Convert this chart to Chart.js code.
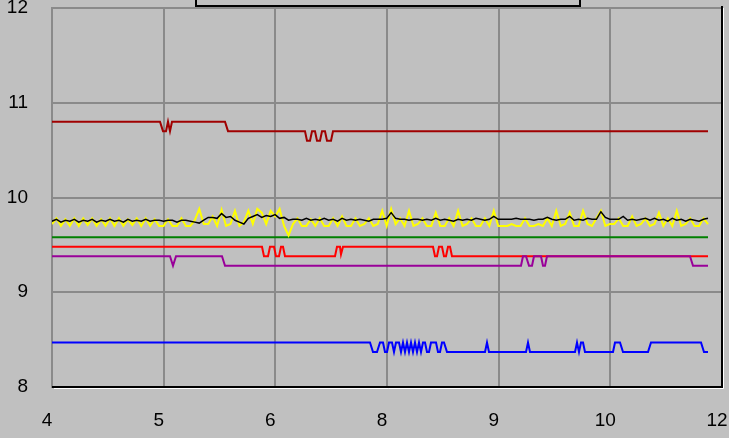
<!DOCTYPE html>
<html>
<head>
<meta charset="utf-8">
<script src="https://cdn.jsdelivr.net/npm/chart.js@4/dist/chart.umd.min.js"></script>
<style>
  html, body { margin: 0; padding: 0; background: #c0c0c0; }
  #wrap { width: 729px; height: 438px; }
</style>
</head>
<body>
<div id="wrap"><canvas id="chart" width="729" height="438"></canvas></div>
<script>
// x runs 0..670 across the plot, gridlines carry these labels
const xTickLabels = ["4", "5", "6", "8", "9", "10", "12"];
const xMax = 670;
const yMin = 8;
const yMax = 12;

const darkRedPts = [[0,10.8],[108,10.8],[111,10.7],[114,10.7],[116,10.8],[118,10.7],[120,10.8],[173,10.8],[176,10.7],
  [253,10.7],[255,10.6],[258,10.6],[260,10.7],[263,10.7],[265,10.6],[268,10.6],[270,10.7],[273,10.7],[275,10.6],
  [279,10.6],[281,10.7],[656,10.7]];

const redPts = [[0,9.48],[210,9.48],[212,9.38],[216,9.38],[218,9.48],[222,9.48],[224,9.38],[227,9.38],[229,9.48],
  [231,9.48],[233,9.38],[283,9.38],[285,9.48],[288,9.48],[289,9.4],[291,9.48],[381,9.48],[383,9.38],[385,9.38],
  [387,9.48],[390,9.48],[392,9.38],[394,9.38],[396,9.48],[398,9.48],[400,9.38],[656,9.38]];

const purplePts = [[0,9.38],[118,9.38],[121,9.28],[124,9.38],[170,9.38],[173,9.28],[469,9.28],[471,9.38],[474,9.38],
  [477,9.28],[480,9.28],[482,9.38],[489,9.38],[491,9.28],[493,9.28],[495,9.38],[638,9.38],[641,9.28],[656,9.28]];

const greenPts = [[0,9.58],[656,9.58]];

const bluePts = [[0,8.47],[318,8.47],[321,8.37],[325,8.37],[328,8.47],[331,8.47],[333,8.37],[335,8.37],[337,8.47],
  [340,8.47],[342,8.37],[344,8.47],[347,8.47],[349,8.37],[351,8.47],[353,8.37],[355,8.47],[357,8.37],[359,8.47],
  [361,8.37],[363,8.47],[365,8.37],[367,8.47],[369,8.37],[371,8.47],[373,8.47],[375,8.37],[377,8.37],[379,8.47],
  [384,8.47],[386,8.37],[388,8.37],[390,8.47],[392,8.47],[395,8.37],[433,8.37],[435,8.47],[437,8.37],[474,8.37],
  [476,8.47],[478,8.37],[523,8.37],[525,8.47],[527,8.37],[529,8.47],[531,8.47],[533,8.37],[561,8.37],[563,8.47],
  [568,8.47],[571,8.37],[596,8.37],[599,8.47],[649,8.47],[652,8.37],[656,8.37]];

// noisy series, one value per sample
const sampleStep = 656 / 147;
const blackVals = [
  9.75,9.77,9.74,9.76,9.75,9.77,9.74,9.76,9.75,9.77,9.74,9.76,9.75,9.77,9.75,9.76,9.74,9.77,9.75,9.76,9.75,9.77,9.75,
  9.76,9.76,9.75,9.76,9.76,9.74,9.76,9.76,9.75,9.74,
  9.73,9.76,9.79,9.79,9.78,9.83,9.79,9.80,9.76,9.74,9.72,9.78,9.80,9.82,9.79,9.81,
  9.80,9.82,9.78,9.79,9.76,9.77,9.77,9.76,9.78,9.76,9.77,9.76,
  9.78,9.76,9.77,9.75,9.78,9.76,9.77,9.76,9.77,9.76,9.75,9.77,
  9.77,9.77,9.78,9.84,9.78,9.77,9.77,9.76,9.77,9.77,9.76,9.77,
  9.76,9.78,9.76,9.77,9.76,9.75,9.77,9.76,9.77,9.76,9.78,9.77,9.76,9.77,
  9.80,9.77,9.77,9.77,9.77,9.78,9.77,9.77,9.77,9.76,9.77,9.77,
  9.79,9.77,9.76,9.77,9.77,9.80,9.76,9.77,9.76,9.78,9.77,9.77,
  9.85,9.79,9.77,9.77,9.77,9.80,9.76,9.77,9.76,9.77,9.78,9.76,
  9.78,9.76,9.77,9.75,9.78,9.76,9.77,9.75,9.77,9.76,9.75,9.77,9.78];
const yellowVals = [
  9.72,9.78,9.70,9.77,9.70,9.78,9.70,9.78,9.71,9.78,9.70,9.77,9.70,9.78,9.70,9.78,9.70,9.77,9.71,9.78,9.70,9.78,9.70,
  9.77,9.70,9.70,9.77,9.70,9.70,9.78,9.70,9.70,9.76,
  9.88,9.72,9.72,9.80,9.70,9.87,9.70,9.72,9.86,9.70,9.74,9.86,9.72,9.88,9.84,9.72,
  9.86,9.80,9.88,9.70,9.60,9.72,9.78,9.70,9.70,9.77,9.70,9.78,
  9.70,9.70,9.78,9.70,9.80,9.70,9.70,9.78,9.70,9.72,9.78,9.70,
  9.72,9.86,9.70,9.88,9.72,9.78,9.70,9.86,9.70,9.72,9.78,9.70,
  9.70,9.84,9.70,9.70,9.78,9.70,9.86,9.70,9.72,9.78,9.70,9.70,9.78,9.70,
  9.86,9.70,9.70,9.70,9.72,9.70,9.70,9.78,9.70,9.70,9.72,9.70,
  9.78,9.70,9.86,9.70,9.72,9.84,9.70,9.70,9.86,9.72,9.70,9.78,
  9.86,9.70,9.72,9.72,9.78,9.70,9.70,9.80,9.70,9.72,9.78,9.70,
  9.72,9.84,9.70,9.78,9.70,9.86,9.70,9.72,9.78,9.70,9.70,9.78,9.72];

function toXY(pts) {
  return pts.map(p => ({ x: p[0], y: p[1] }));
}
function samples(vals) {
  return vals.map((v, i) => ({ x: i * sampleStep, y: v }));
}

function lineSet(label, data, color, width) {
  return {
    label: label,
    data: data,
    borderColor: color,
    backgroundColor: color,
    borderWidth: width,
    pointRadius: 0,
    tension: 0,
    fill: false,
  };
}

// background, 3D frame and the top box that is cut off by the window
const framePlugin = {
  id: "frame",
  beforeDraw(chart) {
    const ctx = chart.ctx;
    ctx.save();
    ctx.fillStyle = "#c0c0c0";
    ctx.fillRect(0, 0, chart.width, chart.height);
    ctx.restore();
  },
  afterDraw(chart) {
    const ctx = chart.ctx;
    const a = chart.chartArea;
    ctx.save();
    ctx.strokeStyle = "#000";
    ctx.lineWidth = 2;
    ctx.beginPath();
    ctx.moveTo(a.left, a.bottom);
    ctx.lineTo(a.right, a.bottom);
    ctx.lineTo(a.right, a.top - 2);
    ctx.stroke();
    ctx.strokeStyle = "#fff";
    ctx.lineWidth = 1;
    ctx.beginPath();
    ctx.moveTo(a.left + 2, a.bottom + 1.5);
    ctx.lineTo(a.right + 1.5, a.bottom + 1.5);
    ctx.lineTo(a.right + 1.5, a.top);
    ctx.stroke();
    // box above the plot
    ctx.strokeStyle = "#000";
    ctx.lineWidth = 2;
    ctx.strokeRect(196, -20, 384, 26);
    ctx.restore();
  }
};

const ctx = document.getElementById("chart").getContext("2d");
new Chart(ctx, {
  type: "line",
  data: {
    datasets: [
      lineSet("Black", samples(blackVals), "#000000", 1.5),
      lineSet("Yellow", samples(yellowVals), "#ffff00", 2),
      lineSet("Green", toXY(greenPts), "#008000", 2),
      lineSet("Purple", toXY(purplePts), "#990099", 2),
      lineSet("Red", toXY(redPts), "#ff0000", 2),
      lineSet("Dark red", toXY(darkRedPts), "#a00000", 2),
      lineSet("Blue", toXY(bluePts), "#0000ff", 2),
    ],
  },
  options: {
    responsive: false,
    animation: false,
    layout: { padding: { top: 8, right: 7, left: 0, bottom: 0 } },
    plugins: {
      legend: { display: false },
      tooltip: { enabled: false },
    },
    scales: {
      x: {
        type: "linear",
        min: 0,
        max: xMax,
        afterBuildTicks: scale => {
          scale.ticks = xTickLabels.map((_, i) => ({ value: i * xMax / (xTickLabels.length - 1) }));
        },
        afterFit: scale => {
          scale.height = 51;
          scale.paddingLeft = 0;
          scale.paddingRight = 0;
        },
        grid: { color: "#8a8a8a", lineWidth: 2, drawTicks: false },
        border: { display: true, color: "#8a8a8a", width: 2 },
        ticks: {
          padding: 22,
          labelOffset: -5,
          maxRotation: 0,
          color: "#000",
          font: { family: "Liberation Sans", size: 19 },
          callback: (v, i) => xTickLabels[i],
        },
      },
      y: {
        min: yMin,
        max: yMax,
        afterFit: scale => {
          scale.width = 52;
          scale.paddingTop = 0;
          scale.paddingBottom = 0;
        },
        grid: { color: "#8a8a8a", lineWidth: 2, drawTicks: false },
        border: { display: true, color: "#8a8a8a", width: 2 },
        ticks: {
          stepSize: 1,
          padding: 24,
          color: "#000",
          font: { family: "Liberation Sans", size: 19 },
        },
      },
    },
  },
  plugins: [framePlugin],
});
</script>
</body>
</html>
